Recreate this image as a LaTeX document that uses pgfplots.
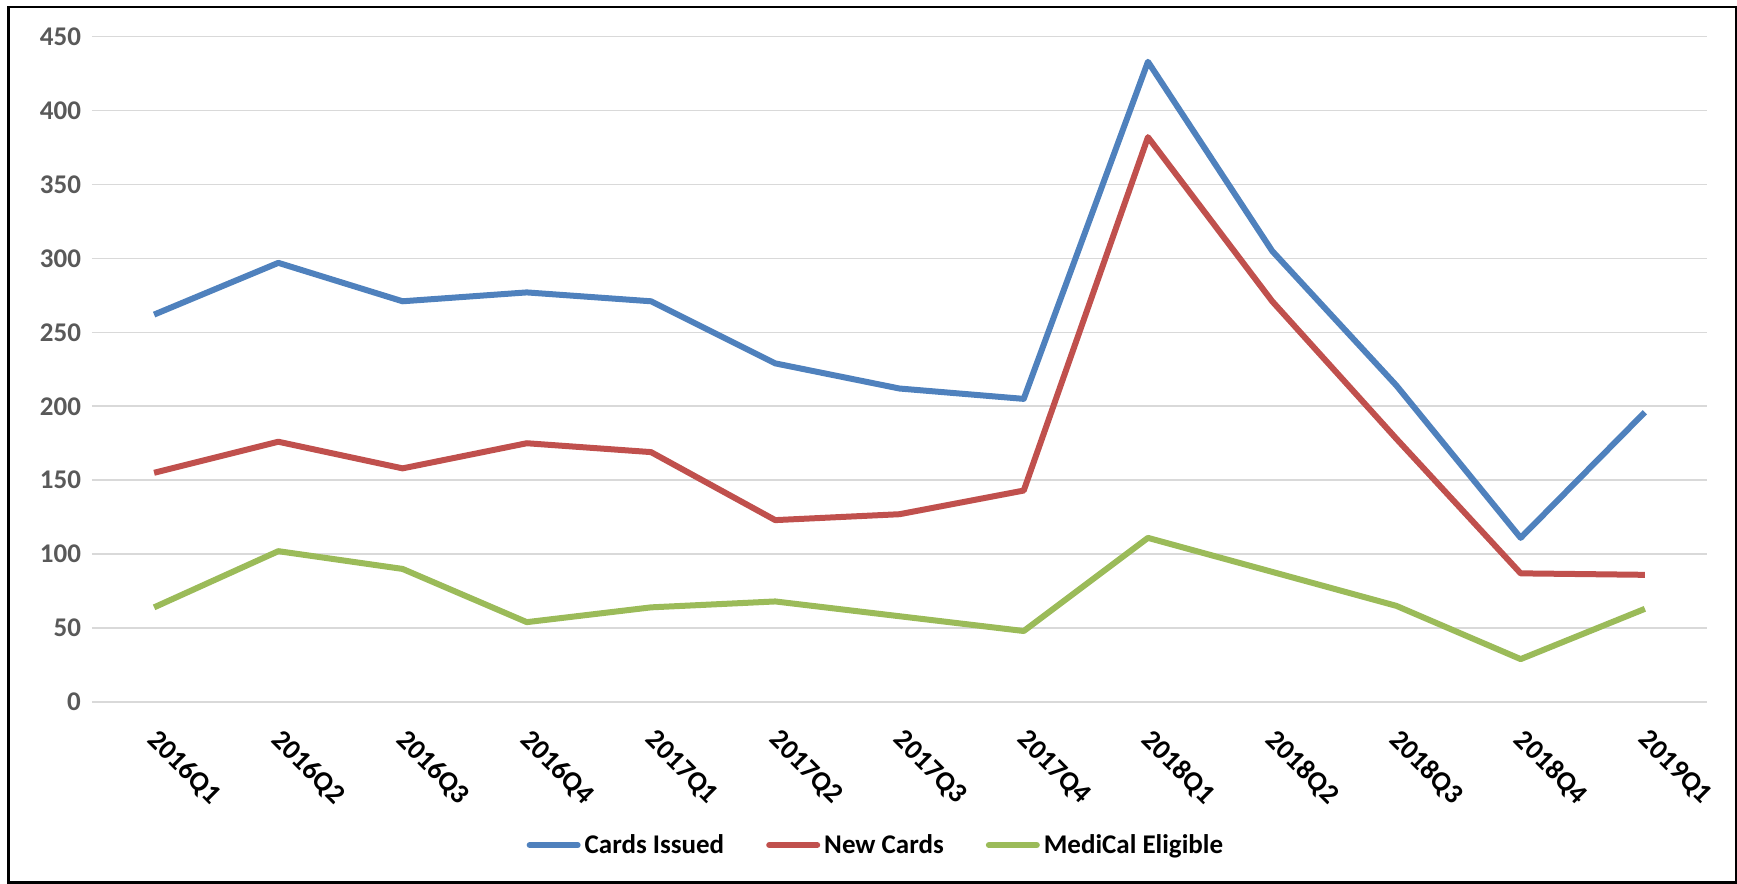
\documentclass[border=0pt]{standalone}
\usepackage{fontspec}
\setmainfont{Carlito}
\usepackage{pgfplots}
\pgfplotsset{compat=1.18}
\definecolor{cblue}{HTML}{4F81BD}
\definecolor{cred}{HTML}{C0504D}
\definecolor{cgreen}{HTML}{9BBB59}
\definecolor{tickgray}{HTML}{595959}
\definecolor{gridgray}{HTML}{D9D9D9}
\begin{document}
\begin{tikzpicture}
\useasboundingbox (0,0) rectangle (868.5pt,442pt);
\draw[black, line width=1.2pt] (4.2pt,0.8pt) rectangle (868pt,438.5pt);
\begin{axis}[
  at={(46pt,91pt)}, anchor=south west,
  scale only axis, width=807.5pt, height=332.7pt,
  xmin=-0.5, xmax=12.5, ymin=0, ymax=450,
  ytick={0,50,...,450},
  xtick={0,...,12},
  xticklabels={2016Q1,2016Q2,2016Q3,2016Q4,2017Q1,2017Q2,2017Q3,2017Q4,2018Q1,2018Q2,2018Q3,2018Q4,2019Q1},
  axis line style={draw=none},
  tick style={draw=none},
  ymajorgrids, grid style={gridgray, line width=0.8pt},
  /pgf/number format/assume math mode=true,
  yticklabel style={font=\fontsize{13.5}{16}\selectfont\bfseries, text=tickgray, xshift=-2pt},
  xticklabel style={font=\fontsize{14}{16}\selectfont\bfseries, text=black, anchor=north west, xshift=3pt, yshift=-8pt, rotate=-45},
  legend columns=3,
  legend style={at={(0.486,-0.215)}, anchor=center, draw=none, fill=none,
    font=\fontsize{13.5}{16}\selectfont\bfseries,
    /tikz/every even column/.append style={column sep=19pt}},
  legend image code/.code={\draw[#1, line cap=round] (0pt,0pt) -- (24pt,0pt);},
  every axis plot/.append style={line width=3pt, line join=round, mark=none},
]
\addplot[cblue] coordinates {(0,262) (1,297) (2,271) (3,277) (4,271) (5,229) (6,212) (7,205) (8,433) (9,305) (10,214) (11,111) (12,196)};
\addlegendentry{Cards Issued}
\addplot[cred] coordinates {(0,155) (1,176) (2,158) (3,175) (4,169) (5,123) (6,127) (7,143) (8,382) (9,271) (10,178) (11,87) (12,86)};
\addlegendentry{New Cards}
\addplot[cgreen] coordinates {(0,64) (1,102) (2,90) (3,54) (4,64) (5,68) (6,58) (7,48) (8,111) (9,88) (10,65) (11,29) (12,63)};
\addlegendentry{MediCal Eligible}
\end{axis}
\end{tikzpicture}
\end{document}
